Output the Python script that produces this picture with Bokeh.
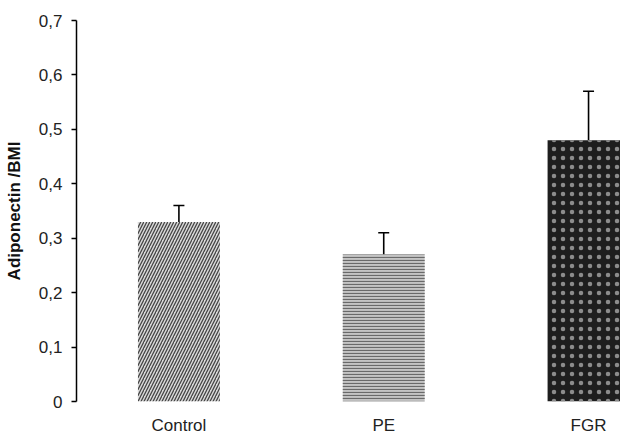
from bokeh.plotting import figure
from bokeh.models import (ColumnDataSource, Range1d, FixedTicker, Whisker, TeeHead,
                          CustomJSTickFormatter)
from bokeh.embed import file_html
from bokeh.resources import INLINE

# Group means and upper error (mean + SEM) of adiponectin/BMI
groups = ["Control", "PE", "FGR"]
means = [0.33, 0.27, 0.48]
upper = [0.36, 0.31, 0.57]
y_ticks = [0, 0.1, 0.2, 0.3, 0.4, 0.5, 0.6, 0.7]

# Per-group fill styles (hatched greyscale patterns)
fills = ["#dadada", "#c4c4c4", "#1e1e1e"]
patterns = ["/", "-", "."]
hatch_colors = ["#454545", "#6a6a6a", "#8c8c8c"]
hatch_scales = [6, 3, 9]
hatch_weights = [1.3, 1.2, 1.0]

xs = list(range(len(groups)))
src = ColumnDataSource(dict(x=xs, mean=means, upper=upper,
                            fill=fills, pat=patterns, hcol=hatch_colors,
                            hscale=hatch_scales, hweight=hatch_weights))

p = figure(width=620, height=437, x_range=Range1d(-0.5, 2.156), y_range=Range1d(0, 0.7),
           output_backend="svg", toolbar_location=None,
           min_border_left=76, min_border_top=20, min_border_bottom=34, min_border_right=0)
p.outline_line_color = None
p.grid.grid_line_color = None
p.background_fill_color = "white"
p.border_fill_color = "white"

p.vbar(x="x", top="mean", bottom=0, width=0.4, source=src,
       fill_color="fill", line_color=None,
       hatch_pattern="pat", hatch_color="hcol", hatch_scale="hscale", hatch_weight="hweight")

p.add_layout(Whisker(base="x", lower="mean", upper="upper", source=src,
                     line_color="black", line_width=1.6,
                     lower_head=None,
                     upper_head=TeeHead(size=11, line_color="black", line_width=1.6)))

font = "Liberation Sans"

# y axis
ya = p.yaxis[0]
ya.ticker = FixedTicker(ticks=y_ticks)
ya.formatter = CustomJSTickFormatter(
    code="return tick == 0 ? '0' : tick.toFixed(1).replace('.', ',');")
ya.axis_line_color = "black"
ya.axis_line_width = 1.5
ya.major_tick_line_color = "black"
ya.major_tick_line_width = 1.5
ya.major_tick_in = 0
ya.major_tick_out = 5
ya.minor_tick_line_color = None
ya.major_label_standoff = 9
ya.major_label_text_font = font
ya.major_label_text_font_size = "17px"
ya.major_label_text_color = "#222222"
ya.axis_label = "Adiponectin /BMI"
ya.axis_label_text_font = font
ya.axis_label_text_font_size = "17px"
ya.axis_label_text_font_style = "bold"
ya.axis_label_text_color = "#111111"
ya.axis_label_standoff = 12

# x axis: category names only
xa = p.xaxis[0]
xa.ticker = FixedTicker(ticks=xs)
xa.major_label_overrides = {i: g for i, g in zip(xs, groups)}
xa.axis_line_color = None
xa.major_tick_line_color = None
xa.minor_tick_line_color = None
xa.major_tick_out = 0
xa.major_label_standoff = 14
xa.major_label_text_font = font
xa.major_label_text_font_size = "17px"
xa.major_label_text_color = "#222222"

open("out.html", "w").write(file_html(p, INLINE))
